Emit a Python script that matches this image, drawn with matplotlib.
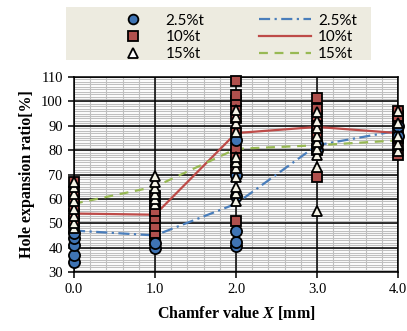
import matplotlib
matplotlib.use("Agg")
import matplotlib.pyplot as plt
from matplotlib.ticker import MultipleLocator
from matplotlib.lines import Line2D
from matplotlib.patches import Rectangle

# chamfer values [mm]
chamfer = [0.0, 1.0, 2.0, 3.0, 4.0]

# measured points for each clearance (x, hole expansion ratio)
pts_25 = {
    0.0: [34, 37, 41, 44, 46],
    1.0: [40, 42],
    2.0: [40.5, 42.5, 47, 61, 70, 84],
    3.0: [80, 82.5],
    4.0: [86, 90],
}
pts_10 = {
    0.0: [48, 51, 54, 57, 60, 63, 67],
    1.0: [43, 46, 49, 52, 55, 58, 61],
    2.0: [51, 72, 75, 78, 81, 87, 93, 97, 100, 102.5, 108.5],
    3.0: [69, 80, 86, 90, 94, 97, 101.5],
    4.0: [78, 82, 85, 88, 91, 94, 96],
}
pts_15 = {
    0.0: [48, 50, 53, 56, 59, 62, 65, 67],
    1.0: [58, 60, 62, 64.5, 67, 69.5],
    2.0: [59, 62.5, 65, 69, 72.5, 75, 77, 87.5, 91, 93.5, 96.5],
    3.0: [55, 73, 78, 80.5, 83.5, 86, 89, 92, 95.5],
    4.0: [79.5, 82.5, 86, 91, 96],
}

# average trend lines
avg_25 = [47, 45, 58, 82, 88]
avg_10 = [54, 53.5, 87, 89.5, 87]
avg_15 = [58, 65, 80.5, 82, 84]

labels = ["2.5%t", "10%t", "15%t"]

plt.rcParams["font.family"] = ["Liberation Serif", "DejaVu Serif"]
plt.rcParams["mathtext.fontset"] = "custom"
plt.rcParams["mathtext.it"] = "Liberation Serif:italic:bold"

fig = plt.figure(figsize=(4.07, 3.31), dpi=100)
pos = [74 / 407, 1 - 272 / 331, 324 / 407, 195 / 331]

# background axes only carries the thin grey minor grid
bg = fig.add_axes(pos)
ax = fig.add_axes(pos)
ax.set_facecolor("none")
for a in (bg, ax):
    a.set_xlim(0, 4)
    a.set_ylim(30, 110)
    a.xaxis.set_major_locator(MultipleLocator(1))
    a.xaxis.set_minor_locator(MultipleLocator(0.2))
    a.yaxis.set_major_locator(MultipleLocator(10))
    a.yaxis.set_minor_locator(MultipleLocator(1))
bg.grid(which="both", color="#BFBFBF", lw=0.8)
bg.tick_params(which="both", length=0, labelbottom=False, labelleft=False)
for s in bg.spines.values():
    s.set_visible(False)

# trend lines (under the markers)
ax.plot(chamfer, avg_25, color="#4A7EBB", lw=1.6, ls=(0, (5, 2, 1, 2)), zorder=3)
ax.plot(chamfer, avg_10, color="#BE4B48", lw=1.6, ls="-", zorder=3)
ax.plot(chamfer, avg_15, color="#98B954", lw=1.6, ls=(0, (4, 3)), zorder=3)


def scatter_pts(d, marker, fc, ms, z):
    xs, ys = [], []
    for k, vals in d.items():
        xs += [k] * len(vals)
        ys += vals
    ax.plot(xs, ys, ls="none", marker=marker, mfc=fc, mec="black", mew=1.3,
            ms=ms, zorder=z, clip_on=False)


scatter_pts(pts_10, "s", "#B0504D", 7.5, 4)
scatter_pts(pts_25, "o", "#3F74B4", 8, 5)
scatter_pts(pts_15, "^", "#F5F3E6", 7.5, 6)

ax.xaxis.set_major_formatter(lambda v, p: f"{v:.1f}")
ax.yaxis.set_major_formatter(lambda v, p: f"{v:.0f}")

ax.set_axisbelow(True)
ax.grid(which="major", color="black", lw=1.1)
for s in ax.spines.values():
    s.set_color("black")
    s.set_linewidth(1.1)
ax.tick_params(which="major", direction="out", length=4, width=1.1,
               labelsize=10.5, pad=4)
ax.tick_params(which="minor", length=0)

ax.set_ylabel("Hole expansion ratio[%]", fontsize=11.5, fontweight="bold", labelpad=4)
ax.set_xlabel("Chamfer value $\\mathit{X}$ [mm]", fontsize=11.5,
              fontweight="bold", labelpad=6)

# legend with beige background
fig.patches.append(Rectangle((66 / 407, 1 - 60 / 331), 305 / 407, 53 / 331,
                             transform=fig.transFigure, facecolor="#EDEBE0",
                             edgecolor="none", zorder=0))
handles = [
    Line2D([], [], ls="none", marker="o", mfc="#3F74B4", mec="black", mew=1.3, ms=7),
    Line2D([], [], ls="none", marker="s", mfc="#B0504D", mec="black", mew=1.3, ms=7),
    Line2D([], [], ls="none", marker="^", mfc="white", mec="black", mew=1.3, ms=7),
    Line2D([], [], color="#4A7EBB", lw=1.6, ls=(0, (5, 2, 1, 2))),
    Line2D([], [], color="#BE4B48", lw=1.6),
    Line2D([], [], color="#98B954", lw=1.6, ls=(0, (4, 3))),
]
fig.legend(handles, labels + labels, ncol=2, frameon=False,
           loc="upper left", bbox_to_anchor=(99 / 407, 1 - 6 / 331),
           borderpad=0, handlelength=3.4, handletextpad=0.45,
           columnspacing=3.6, labelspacing=0.18,
           prop={"family": ["Lato", "DejaVu Sans"], "size": 11})

fig.savefig("out.png", dpi=100)
